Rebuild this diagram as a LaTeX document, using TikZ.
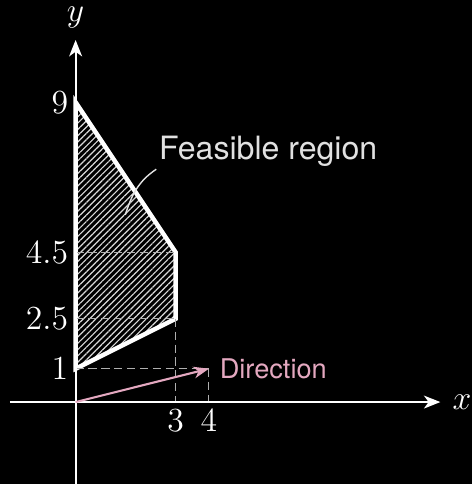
\documentclass[tikz,border=0pt]{standalone}
\usepackage{fontspec}
\setsansfont{TeX Gyre Heros}
\usetikzlibrary{
  arrows.meta,
  positioning,
  patterns.meta
}
\definecolor{pinkdir}{RGB}{228,168,192}
\definecolor{dashgray}{RGB}{175,175,175}
\definecolor{labelgray}{RGB}{225,225,225}

\begin{document}
\begin{tikzpicture}[
  x=0.5cm, y=0.5cm,
  axis/.style={white, line width=0.9pt, -{Stealth[length=7pt, width=5.5pt, inset=2pt]}},
  guide/.style={dashgray, line width=0.5pt, dash pattern=on 3.5pt off 2pt},
  region/.style={draw=white, line width=1.9pt, pattern={Lines[angle=45, distance=1.9pt, line width=0.5pt]}, pattern color=white!85!black},
  tick/.style={white, inner sep=3pt, font=\fontsize{14}{16}\selectfont},
  sanslabel/.style={font=\sffamily\fontsize{#1}{16}\selectfont},
  arrow/.style={pinkdir, line width=0.9pt, -{Stealth[length=6.5pt, width=5pt, inset=2pt]}}
]

% Background
\fill[black] (-2.27,-2.46) rectangle (11.9,12.07);
\useasboundingbox (-2.27,-2.46) rectangle (11.9,12.07);

% Points
\coordinate (O) at (0,0);
\coordinate (A) at (0,9);
\coordinate (B) at (3,4.5);
\coordinate (C) at (3,2.5);
\coordinate (D) at (0,1);
\coordinate (P) at (4,1);
\coordinate (Ey) at (0,4.5);
\coordinate (Fy) at (0,2.5);
\coordinate (Bx) at (3,0);
\coordinate (Px) at (4,0);
\coordinate (xmin) at (-1.97,0);
\coordinate (xmax) at (10.95,0);
\coordinate (ymin) at (0,-2.5);
\coordinate (ymax) at (0,10.87);
\coordinate (inreg) at (1.49,5.62);

% Feasible region
\filldraw[region] (A) -- (B) -- (C) -- (D) -- cycle;

% Guide lines
\draw[guide] (Ey) -- (B);
\draw[guide] (Fy) -- (C);
\draw[guide] (D) -- (P);
\draw[guide] (C) -- (Bx);
\draw[guide] (P) -- (Px);

% Axes
\draw[axis] (xmin) -- (xmax);
\draw[axis] (ymin) -- (ymax);
\node[tick, right=2pt of xmax] (xlab) {$x$};
\node[tick, inner sep=1pt] (ylab) at (0,11.55) {$y$};

% Tick labels
\node[tick, left] (t9) at (A) {$9$};
\node[tick, left] (t45) at (Ey) {$4.5$};
\node[tick, left] (t25) at (Fy) {$2.5$};
\node[tick, left] (t1) at (D) {$1$};
\node[tick, below] (t3) at (Bx) {$3$};
\node[tick, below] (t4) at (Px) {$4$};

% Direction
\draw[arrow] (O) -- (P);
\node[sanslabel=11.6, pinkdir, right, inner sep=4.5pt] (dirlab) at (P) {Direction};

% Label
\node[sanslabel=13.7, labelgray, inner sep=1pt] (feas) at (5.78,7.53) {Feasible region};
\draw[labelgray, line width=0.6pt] (feas.south west) to[out=214, in=72] (inreg);

\end{tikzpicture}
\end{document}
